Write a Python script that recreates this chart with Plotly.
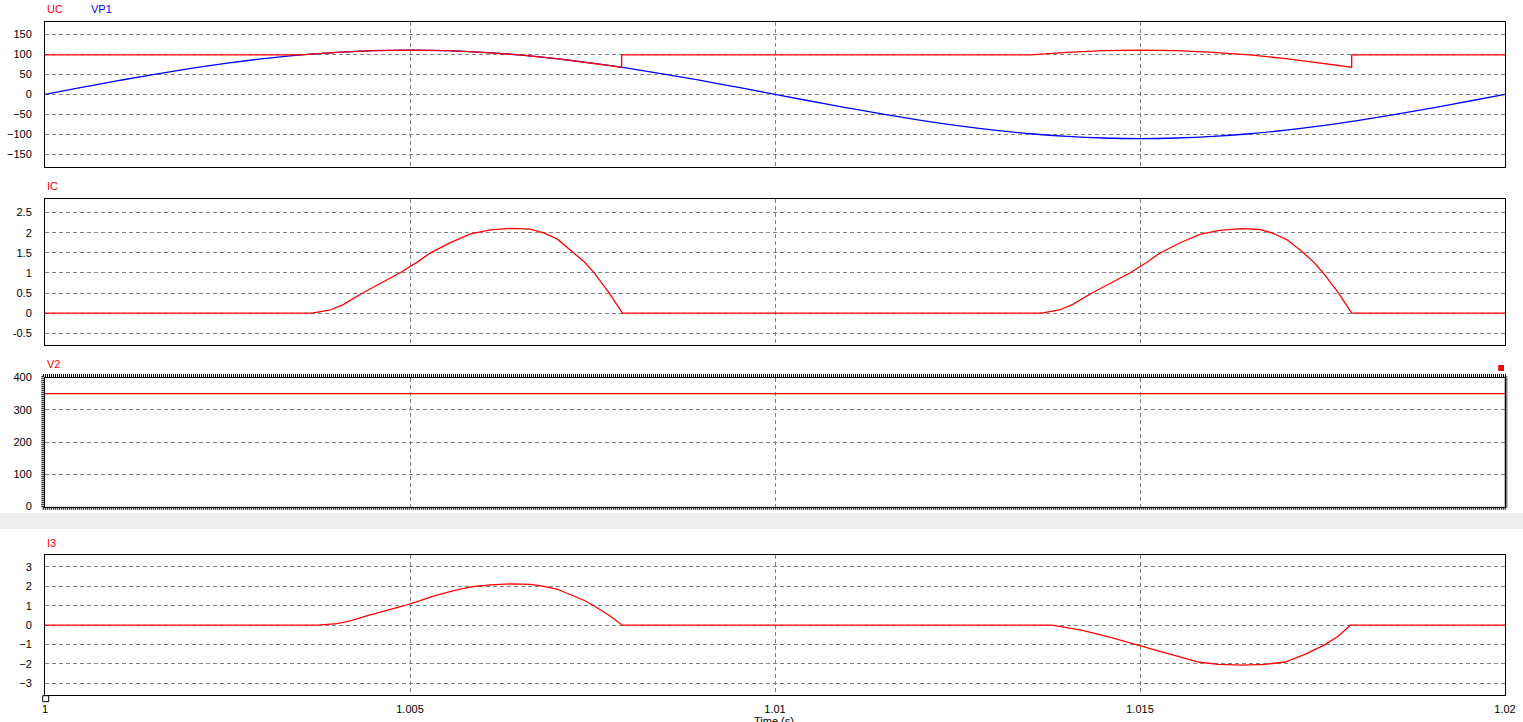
import plotly.graph_objects as go

# ---------------- data ----------------
vp1_t = [1.0, 1.0005, 1.001, 1.0015, 1.002, 1.0025, 1.003, 1.0035, 1.004, 1.0045,
         1.005, 1.0055, 1.006, 1.0065, 1.007, 1.0075, 1.008, 1.0085, 1.009, 1.0095,
         1.01, 1.0105, 1.011, 1.0115, 1.012, 1.0125, 1.013, 1.0135, 1.014, 1.0145,
         1.015, 1.0155, 1.016, 1.0165, 1.017, 1.0175, 1.018, 1.0185, 1.019, 1.0195, 1.02]
vp1_v = [0, 17.2, 34.0, 49.9, 64.7, 77.8, 89.0, 98.0, 104.6, 108.6,
         110.0, 108.6, 104.6, 98.0, 89.0, 77.8, 64.7, 49.9, 34.0, 17.2,
         0, -17.2, -34.0, -49.9, -64.7, -77.8, -89.0, -98.0, -104.6, -108.6,
         -110.0, -108.6, -104.6, -98.0, -89.0, -77.8, -64.7, -49.9, -34.0, -17.2, 0]

uc_t = [1.0, 1.0035, 1.004, 1.0045, 1.005, 1.0055, 1.006, 1.0065, 1.007, 1.0075, 1.0079, 1.0079,
        1.0135, 1.014, 1.0145, 1.015, 1.0155, 1.016, 1.0165, 1.017, 1.0175, 1.0179, 1.0179, 1.02]
uc_v = [98, 98, 104.6, 108.6, 110, 108.6, 104.6, 98, 89, 77.8, 67.4, 98,
        98, 104.6, 108.6, 110, 108.6, 104.6, 98, 89, 77.8, 67.4, 98, 98]

ic_t = [1.0, 1.00366, 1.00391, 1.00409, 1.00434, 1.0046, 1.00487, 1.0051, 1.00528, 1.00556,
        1.00583, 1.0061, 1.0064, 1.00665, 1.00684, 1.00702, 1.00725, 1.00739, 1.00752,
        1.00773, 1.00791,
        1.01365, 1.0139, 1.01408, 1.01433, 1.01459, 1.01486, 1.01509, 1.01527, 1.01555,
        1.01582, 1.01609, 1.01639, 1.01664, 1.01683, 1.01701, 1.01724, 1.01738, 1.01751,
        1.01772, 1.0179, 1.02]
ic_v = [0, 0, 0.08, 0.22, 0.49, 0.74, 1.01, 1.27, 1.5, 1.76,
        1.97, 2.07, 2.11, 2.09, 1.99, 1.84, 1.5, 1.27, 1.01,
        0.5, 0,
        0, 0.08, 0.22, 0.49, 0.74, 1.0, 1.26, 1.49, 1.75,
        1.96, 2.06, 2.1, 2.08, 1.98, 1.83, 1.5, 1.27, 1.0,
        0.5, 0, 0]

v2_t = [1.0, 1.02]
v2_v = [350, 350]

i3_t = [1.0, 1.00375, 1.004, 1.00418, 1.00442, 1.00467, 1.00492, 1.00514, 1.00532, 1.0056,
        1.00585, 1.0061, 1.0064, 1.00665, 1.00684, 1.00702, 1.00725, 1.00739, 1.00752,
        1.00773, 1.00791,
        1.01379, 1.0142, 1.01461, 1.01502, 1.01543, 1.0158, 1.01607, 1.0164, 1.01671,
        1.01699, 1.01726, 1.01754, 1.01772, 1.01788, 1.02]
i3_v = [0, 0, 0.08, 0.22, 0.49, 0.74, 1.0, 1.26, 1.5, 1.78,
        1.98, 2.08, 2.13, 2.1, 2.0, 1.85, 1.5, 1.27, 1.0,
        0.5, 0,
        0, -0.26, -0.64, -1.08, -1.51, -1.9, -2.02, -2.06, -2.02,
        -1.9, -1.51, -0.99, -0.56, 0, 0]

x_ticks = [1.0, 1.005, 1.01, 1.015, 1.02]
x_tick_text = ["1", "1.005", "1.01", "1.015", "1.02"]
p1_ticks = [-150, -100, -50, 0, 50, 100, 150]
p2_ticks = [-0.5, 0, 0.5, 1, 1.5, 2, 2.5]
p2_tick_text = ["-0.5", "0", "0.5", "1", "1.5", "2", "2.5"]
p3_ticks = [0, 100, 200, 300, 400]
p4_ticks = [-3, -2, -1, 0, 1, 2, 3]

RED = "#ff0000"
BLUE = "#0000ff"
GRID = "#808080"
FONT = "Liberation Sans, Arial, sans-serif"

fig = go.Figure()
fig.add_trace(go.Scatter(x=vp1_t, y=vp1_v, mode="lines", line=dict(color=BLUE, width=1.3, shape="spline"),
                         xaxis="x", yaxis="y", name="VP1"))
fig.add_trace(go.Scatter(x=uc_t, y=uc_v, mode="lines", line=dict(color=RED, width=1.3),
                         xaxis="x", yaxis="y", name="UC"))
fig.add_trace(go.Scatter(x=ic_t, y=ic_v, mode="lines", line=dict(color=RED, width=1.3),
                         xaxis="x2", yaxis="y2", name="IC"))
fig.add_trace(go.Scatter(x=v2_t, y=v2_v, mode="lines", line=dict(color=RED, width=1.3),
                         xaxis="x3", yaxis="y3", name="V2"))
fig.add_trace(go.Scatter(x=i3_t, y=i3_v, mode="lines", line=dict(color=RED, width=1.3),
                         xaxis="x4", yaxis="y4", name="I3"))

H = 673.0
def fy(px):
    return (695.0 - px) / H

def xax(show_labels, anchor):
    return dict(range=[1.0, 1.02], domain=[0, 1], anchor=anchor, tickvals=x_ticks, ticktext=x_tick_text,
                showticklabels=show_labels, showgrid=True, gridcolor=GRID, griddash="4px,3px", gridwidth=1,
                showline=True, linecolor="black", linewidth=1, mirror=True, zeroline=False, ticks="",
                automargin=False,
                tickfont=dict(family=FONT, size=11, color="#000000"), ticklabelstandoff=4)

def yax(rng, dom, ticks, anchor, text=None):
    d = dict(range=rng, domain=dom, anchor=anchor, tickvals=ticks, showgrid=True, gridcolor=GRID,
             griddash="4px,3px", gridwidth=1, showline=True, linecolor="black", linewidth=1, mirror=True,
             zeroline=False, ticks="", automargin=False,
             tickfont=dict(family=FONT, size=11, color="#000000"), ticklabelstandoff=10)
    if text is not None:
        d["ticktext"] = text
    return d

fig.update_layout(
    width=1523, height=722, autosize=False,
    margin=dict(l=45, r=18, t=22, b=27, pad=0, autoexpand=False),
    paper_bgcolor="white", plot_bgcolor="white", showlegend=False,
    xaxis=xax(False, "y"),
    xaxis2=xax(False, "y2"),
    xaxis3=xax(False, "y3"),
    xaxis4=xax(True, "y4"),
    yaxis=yax([-180, 180], [fy(166.7), 1.0], p1_ticks, "x"),
    yaxis2=yax([-0.79, 2.83], [fy(345), fy(199.3)], p2_ticks, "x2", p2_tick_text),
    yaxis3=yax([0, 400], [fy(506.5), fy(377.5)], p3_ticks, "x3"),
    yaxis4=yax([-3.6, 3.6], [0.0, fy(555.3)], p4_ticks, "x4"),
)

# gray separator band
fig.add_shape(type="rect", xref="paper", yref="paper", x0=-45 / 1460, x1=1478 / 1460,
              y0=fy(529), y1=fy(513), fillcolor="#efefef", line=dict(width=0), layer="below")
# selected-panel dotted frame around V2
fig.add_shape(type="rect", xref="paper", yref="paper", x0=-2.2 / 1460, x1=1.0 + 1.0 / 1460,
              y0=fy(508.3), y1=fy(375.5), line=dict(color="black", width=3, dash="1px,1px"),
              fillcolor="rgba(0,0,0,0)")
# red marker square
fig.add_shape(type="rect", xref="paper", yref="paper", x0=(1498.3 - 45) / 1460, x1=(1504 - 45) / 1460,
              y0=fy(371), y1=fy(365), fillcolor=RED, line=dict(width=0))
# origin square
fig.add_shape(type="rect", xref="paper", yref="paper", x0=-2.3 / 1460, x1=3.7 / 1460,
              y0=fy(701.7), y1=fy(695.7), fillcolor="white", line=dict(color="black", width=1))

def label(text, xpx, ypx, color):
    fig.add_annotation(text=text, xref="paper", yref="paper", x=(xpx - 45) / 1460, y=fy(ypx),
                       xanchor="left", yanchor="middle", showarrow=False,
                       font=dict(family=FONT, size=11, color=color))

label("UC", 45, 9, RED)
label("VP1", 89, 9, BLUE)
label("IC", 45, 186, RED)
label("V2", 45, 364, RED)
label("I3", 45, 543, RED)

fig.add_annotation(text="Time (s)", xref="paper", yref="paper", x=(774 - 45) / 1460, y=fy(713),
                   xanchor="center", yanchor="top", showarrow=False,
                   font=dict(family=FONT, size=11, color="#000000"))

fig.write_html("out.html", config={"displayModeBar": False},
               post_script="document.body.style.margin='0';document.body.style.padding='0';"
                           "document.body.style.overflow='hidden';")
